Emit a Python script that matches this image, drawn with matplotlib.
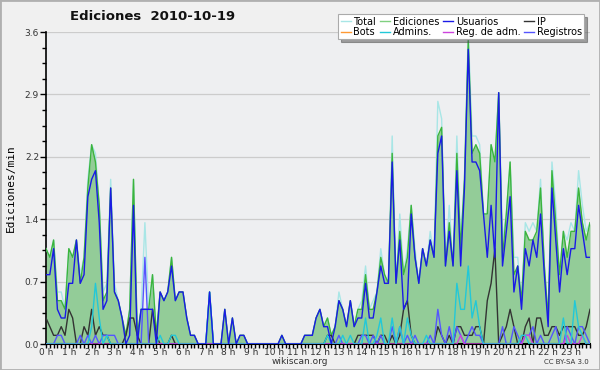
import numpy as np
import matplotlib
matplotlib.use("Agg")
import matplotlib.pyplot as plt
from matplotlib.lines import Line2D
from matplotlib.patches import Rectangle

# edits per minute, one value every 10 minutes (144 per day)
usuarios = [
    0.8, 0.8, 1.1, 0.4, 0.3, 0.3, 0.7, 0.7, 1.2, 0.7, 0.8, 1.7, 1.9, 2.0, 1.4, 0.4, 0.5, 1.8, 0.6, 0.5, 0.3, 0.0, 0.1, 1.6,
    0.0, 0.4, 0.4, 0.4, 0.4, 0.0, 0.6, 0.5, 0.6, 0.9, 0.5, 0.6, 0.6, 0.3, 0.1, 0.1, 0.0, 0.0, 0.0, 0.6, 0.0, 0.0, 0.0, 0.4,
    0.0, 0.3, 0.0, 0.1, 0.1, 0.0, 0.0, 0.0, 0.0, 0.0, 0.0, 0.0, 0.0, 0.0, 0.1, 0.0, 0.0, 0.0, 0.0, 0.0, 0.1, 0.1, 0.1, 0.3,
    0.4, 0.2, 0.2, 0.0, 0.2, 0.5, 0.4, 0.2, 0.5, 0.2, 0.3, 0.3, 0.7, 0.3, 0.3, 0.6, 0.9, 0.7, 0.7, 2.1, 0.7, 1.2, 0.4, 0.5,
    1.5, 1.0, 0.7, 1.1, 0.9, 1.2, 1.0, 2.2, 2.4, 0.9, 1.3, 0.9, 2.0, 0.9, 1.8, 3.4, 2.1, 2.1, 2.0, 1.5, 1.0, 1.6, 1.0, 2.9,
    0.9, 1.3, 1.7, 0.6, 0.9, 0.4, 1.1, 0.9, 1.2, 1.0, 1.5, 0.8, 0.2, 1.8, 1.2, 0.6, 1.1, 0.8, 1.1, 1.1, 1.6, 1.3, 1.0, 1.0,
]
ip = [
    0.3, 0.2, 0.1, 0.1, 0.2, 0.1, 0.4, 0.3, 0.0, 0.0, 0.2, 0.1, 0.4, 0.1, 0.2, 0.1, 0.1, 0.0, 0.0, 0.0, 0.0, 0.1, 0.3, 0.3,
    0.1, 0.0, 0.0, 0.0, 0.4, 0.1, 0.0, 0.0, 0.0, 0.1, 0.0, 0.0, 0.0, 0.0, 0.0, 0.0, 0.0, 0.0, 0.0, 0.0, 0.0, 0.0, 0.0, 0.0,
    0.0, 0.0, 0.0, 0.0, 0.0, 0.0, 0.0, 0.0, 0.0, 0.0, 0.0, 0.0, 0.0, 0.0, 0.0, 0.0, 0.0, 0.0, 0.0, 0.0, 0.0, 0.0, 0.0, 0.0,
    0.0, 0.0, 0.1, 0.1, 0.0, 0.0, 0.0, 0.0, 0.0, 0.0, 0.1, 0.1, 0.1, 0.1, 0.1, 0.0, 0.1, 0.1, 0.0, 0.1, 0.0, 0.1, 0.4, 0.5,
    0.1, 0.0, 0.0, 0.0, 0.0, 0.0, 0.0, 0.2, 0.1, 0.0, 0.1, 0.0, 0.2, 0.2, 0.1, 0.1, 0.1, 0.2, 0.2, 0.0, 0.5, 0.7, 1.1, 0.0,
    0.1, 0.2, 0.4, 0.2, 0.0, 0.0, 0.2, 0.3, 0.0, 0.3, 0.3, 0.1, 0.1, 0.2, 0.2, 0.1, 0.2, 0.2, 0.2, 0.2, 0.1, 0.1, 0.2, 0.4,
]
ediciones = [
    1.1, 1.0, 1.2, 0.5, 0.5, 0.4, 1.1, 1.0, 1.2, 0.7, 1.0, 1.8, 2.3, 2.1, 1.6, 0.5, 0.6, 1.8, 0.6, 0.5, 0.3, 0.1, 0.4, 1.9,
    0.1, 0.4, 0.4, 0.4, 0.8, 0.1, 0.6, 0.5, 0.6, 1.0, 0.5, 0.6, 0.6, 0.3, 0.1, 0.1, 0.0, 0.0, 0.0, 0.6, 0.0, 0.0, 0.0, 0.4,
    0.0, 0.3, 0.0, 0.1, 0.1, 0.0, 0.0, 0.0, 0.0, 0.0, 0.0, 0.0, 0.0, 0.0, 0.1, 0.0, 0.0, 0.0, 0.0, 0.0, 0.1, 0.1, 0.1, 0.3,
    0.4, 0.2, 0.3, 0.1, 0.2, 0.5, 0.4, 0.2, 0.5, 0.2, 0.4, 0.4, 0.8, 0.4, 0.4, 0.6, 1.0, 0.8, 0.7, 2.2, 0.7, 1.3, 0.8, 1.0,
    1.6, 1.0, 0.7, 1.1, 0.9, 1.2, 1.0, 2.4, 2.5, 0.9, 1.4, 0.9, 2.2, 1.1, 1.9, 3.5, 2.2, 2.3, 2.2, 1.5, 1.5, 2.3, 2.1, 2.9,
    1.0, 1.5, 2.1, 0.8, 0.9, 0.5, 1.3, 1.2, 1.2, 1.3, 1.8, 0.9, 0.3, 2.0, 1.4, 0.8, 1.3, 1.0, 1.3, 1.3, 1.8, 1.4, 1.2, 1.4,
]
total = [
    1.1, 1.0, 1.2, 0.6, 0.6, 0.4, 1.1, 1.0, 1.2, 0.8, 1.0, 1.9, 2.3, 2.2, 1.6, 0.6, 0.7, 1.9, 0.7, 0.5, 0.3, 0.1, 0.4, 1.9,
    0.1, 0.4, 1.4, 0.4, 0.8, 0.1, 0.6, 0.5, 0.6, 1.0, 0.5, 0.6, 0.6, 0.3, 0.1, 0.1, 0.0, 0.0, 0.0, 0.6, 0.0, 0.0, 0.0, 0.4,
    0.0, 0.3, 0.0, 0.1, 0.1, 0.0, 0.0, 0.0, 0.0, 0.0, 0.0, 0.0, 0.0, 0.0, 0.1, 0.0, 0.0, 0.0, 0.0, 0.0, 0.1, 0.1, 0.1, 0.3,
    0.4, 0.2, 0.3, 0.1, 0.2, 0.6, 0.4, 0.2, 0.5, 0.2, 0.4, 0.5, 0.9, 0.4, 0.5, 0.6, 1.1, 0.8, 0.7, 2.4, 0.7, 1.5, 0.8, 1.1,
    1.6, 1.1, 0.7, 1.1, 0.9, 1.3, 1.0, 2.8, 2.6, 0.9, 1.6, 0.9, 2.4, 1.2, 1.9, 3.6, 2.4, 2.4, 2.3, 1.5, 1.5, 2.3, 2.1, 2.9,
    1.2, 1.5, 2.1, 1.0, 1.0, 0.5, 1.4, 1.3, 1.4, 1.3, 1.9, 0.9, 0.3, 2.1, 1.6, 0.8, 1.3, 1.2, 1.4, 1.3, 2.0, 1.6, 1.3, 1.4,
]
registros = [
    0.0, 0.0, 0.0, 0.1, 0.1, 0.0, 0.0, 0.0, 0.0, 0.1, 0.0, 0.1, 0.0, 0.1, 0.0, 0.1, 0.1, 0.1, 0.1, 0.0, 0.0, 0.0, 0.0, 0.0,
    0.0, 0.0, 1.0, 0.0, 0.0, 0.0, 0.0, 0.0, 0.0, 0.0, 0.0, 0.0, 0.0, 0.0, 0.0, 0.0, 0.0, 0.0, 0.0, 0.0, 0.0, 0.0, 0.0, 0.0,
    0.0, 0.0, 0.0, 0.0, 0.0, 0.0, 0.0, 0.0, 0.0, 0.0, 0.0, 0.0, 0.0, 0.0, 0.0, 0.0, 0.0, 0.0, 0.0, 0.0, 0.0, 0.0, 0.0, 0.0,
    0.0, 0.0, 0.0, 0.0, 0.0, 0.1, 0.0, 0.0, 0.0, 0.0, 0.0, 0.1, 0.1, 0.0, 0.1, 0.0, 0.1, 0.0, 0.0, 0.2, 0.0, 0.2, 0.0, 0.1,
    0.0, 0.1, 0.0, 0.0, 0.0, 0.1, 0.0, 0.4, 0.1, 0.0, 0.2, 0.0, 0.2, 0.1, 0.0, 0.1, 0.2, 0.1, 0.1, 0.0, 0.0, 0.0, 0.0, 0.0,
    0.2, 0.0, 0.0, 0.2, 0.1, 0.0, 0.1, 0.1, 0.2, 0.0, 0.1, 0.0, 0.0, 0.1, 0.2, 0.0, 0.0, 0.2, 0.1, 0.0, 0.2, 0.2, 0.1, 0.0,
]
admins = [
    0.0, 0.0, 0.0, 0.0, 0.0, 0.0, 0.0, 0.0, 0.0, 0.0, 0.0, 0.0, 0.2, 0.7, 0.3, 0.0, 0.1, 0.0, 0.0, 0.0, 0.0, 0.0, 0.0, 0.0,
    0.0, 0.0, 0.0, 0.0, 0.0, 0.0, 0.1, 0.0, 0.0, 0.1, 0.1, 0.0, 0.0, 0.0, 0.0, 0.0, 0.0, 0.0, 0.0, 0.6, 0.0, 0.0, 0.0, 0.0,
    0.0, 0.0, 0.0, 0.0, 0.0, 0.0, 0.0, 0.0, 0.0, 0.0, 0.0, 0.0, 0.0, 0.0, 0.0, 0.0, 0.0, 0.0, 0.0, 0.0, 0.0, 0.0, 0.0, 0.0,
    0.0, 0.0, 0.1, 0.0, 0.0, 0.0, 0.1, 0.0, 0.1, 0.0, 0.0, 0.0, 0.3, 0.0, 0.0, 0.1, 0.3, 0.0, 0.0, 0.3, 0.0, 0.2, 0.0, 0.3,
    0.1, 0.0, 0.0, 0.0, 0.1, 0.0, 0.0, 0.0, 0.0, 0.0, 0.0, 0.0, 0.7, 0.4, 0.4, 0.9, 0.3, 0.5, 0.2, 0.0, 0.0, 0.0, 0.0, 0.0,
    0.0, 0.0, 0.0, 0.0, 0.0, 0.1, 0.1, 0.0, 0.0, 0.0, 0.0, 0.0, 0.0, 0.0, 0.0, 0.0, 0.3, 0.0, 0.0, 0.5, 0.2, 0.1, 0.0, 0.0,
]
reg_adm = [0.0] * 109 + [0.1] + [0.0] * 16 + [0.1, 0.1] + [0.0] * 9 + [0.1] + [0.0] * 3 + [0.1] + [0.0] * 2
bots = [0.0] * 144

hours = [str(h) + " h" for h in range(24)]
y_ticks = [0.0, 0.72, 1.44, 2.16, 2.88, 3.6]
y_labels = ["0.0", "0.7", "1.4", "2.2", "2.9", "3.6"]

x = np.arange(144) / 6.0

c_total = "#a8e6e6"
c_edic = "#3cb43c"
c_fill = "#93cc98"
c_usu = "#1a1ae6"
c_ip = "#333333"
c_bots = "#ff9933"
c_adm = "#22c8d8"
c_regadm = "#cc44dd"
c_reg = "#5555ff"

fig = plt.figure(figsize=(6, 3.7), dpi=100, facecolor="#f0f0f0")
ax = fig.add_axes([46 / 600, 26 / 370, 544 / 600, 312 / 370])
ax.set_facecolor("#eeeff1")

lw = 1.0
ax.fill_between(x, ediciones, 0, color=c_fill, lw=0, zorder=1)
ax.plot(x, bots, color=c_bots, lw=lw, zorder=2)
ax.plot(x, total, color=c_total, lw=lw, zorder=3)
ax.plot(x, ediciones, color=c_edic, lw=lw, zorder=4)
ax.plot(x, ip, color=c_ip, lw=lw, zorder=5)
ax.plot(x, registros, color=c_reg, lw=lw, zorder=6)
ax.plot(x, reg_adm, color=c_regadm, lw=lw, zorder=6)
ax.plot(x, admins, color=c_adm, lw=lw, zorder=7)
ax.plot(x, usuarios, color=c_usu, lw=lw, zorder=8)

ax.set_xlim(0, 143 / 6.0)
ax.set_ylim(0, 3.6)

ax.set_yticks(y_ticks)
ax.set_yticklabels(y_labels, fontsize=6.5, color="#333333")
ax.set_yticks(np.arange(0, 3.61, 0.18), minor=True)
ax.set_xticks(range(24))
ax.set_xticklabels(hours, fontsize=6.5, color="#333333")
ax.set_xticks(np.arange(0, 143 / 6.0 + 0.01, 1 / 6.0), minor=True)
ax.tick_params(axis="y", which="major", direction="out", length=4, width=1, pad=1)
ax.tick_params(axis="x", which="major", direction="out", length=3, width=1, pad=0)
ax.tick_params(axis="both", which="minor", direction="out", length=3, width=1)
ax.yaxis.grid(True, color="#cccccc", lw=0.9)
ax.set_axisbelow(True)
for s in ["top", "right"]:
    ax.spines[s].set_visible(False)
ax.spines["left"].set_linewidth(1.2)
ax.spines["bottom"].set_linewidth(1.5)

ax.set_ylabel("Ediciones/min", fontsize=8, family="DejaVu Sans Mono", labelpad=6)

fig.text(0.255, 0.955, "Ediciones  2010-10-19", fontsize=9.5, weight="bold",
         ha="center", va="center", color="#111111")
fig.text(0.5, 0.022, "wikiscan.org", fontsize=6.5, ha="center", va="center", color="#333333")
fig.text(0.982, 0.022, "CC BY-SA 3.0", fontsize=5, ha="right", va="center", color="#333333")

names = ["Total", "Bots", "Ediciones", "Admins.", "Usuarios", "Reg. de adm.", "IP", "Registros"]
cols = [c_total, c_bots, "#80d080", c_adm, c_usu, c_regadm, c_ip, c_reg]
handles = [Line2D([0], [0], color=c, lw=1) for c in cols]
leg = fig.legend(handles, names, ncol=4, loc="upper right", bbox_to_anchor=(0.982, 0.975),
                 fontsize=7, handlelength=1.0, handletextpad=0.3, columnspacing=0.4,
                 labelspacing=0.05, borderpad=0.25, fancybox=False, shadow=True,
                 framealpha=1, edgecolor="#aaaaaa")
leg.get_frame().set_linewidth(0.8)

fig.patches.append(Rectangle((0, 0), 1, 1, transform=fig.transFigure, fill=False,
                             edgecolor="#b0b0b0", lw=2))

fig.savefig("out.png", dpi=100, facecolor=fig.get_facecolor())
